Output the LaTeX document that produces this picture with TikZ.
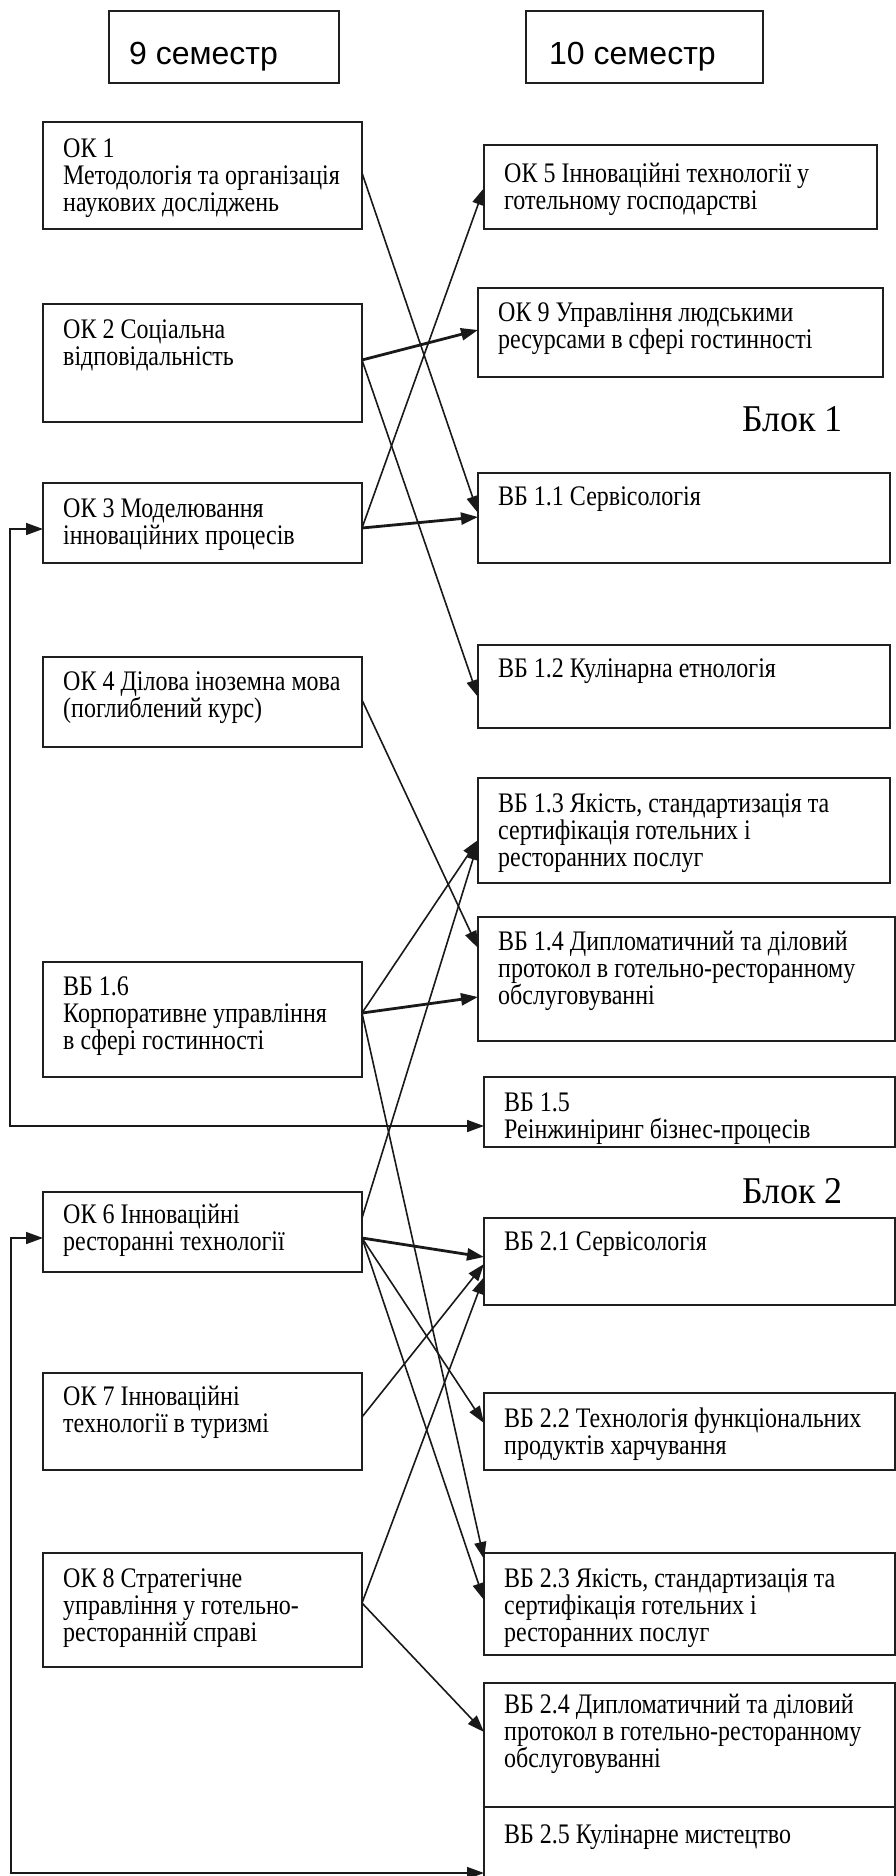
\documentclass[tikz,border=0pt]{standalone}
\usepackage{fontspec}
\usepackage{graphicx}
\setmainfont{Liberation Serif}
\newfontfamily\hdrfont{Liberation Sans}
\usetikzlibrary{arrows.meta}
\tikzset{
  boxnode/.style={draw=black!88, line width=1.5pt, inner sep=0pt, outer sep=0pt, anchor=north west},
  txt/.style={inner sep=0pt, anchor=base west, font=\fontsize{24}{22.9}\selectfont},
  hdrtxt/.style={inner sep=0pt, anchor=base west, font=\hdrfont\fontsize{32}{36}\selectfont},
  blktxt/.style={inner sep=0pt, anchor=base west, font=\fontsize{36}{40}\selectfont},
  arr/.style={-{Triangle[length=17pt,width=12pt]}, line width=1.6pt, black!90},
  tarr/.style={arr, line width=2.8pt},
  biarr/.style={{Triangle[length=17pt,width=12pt]}-{Triangle[length=17pt,width=12pt]}, line width=1.6pt, black!90},
}
\newcommand\tallpar[2]{\scalebox{1}[1.18]{\parbox[t]{#1}{\raggedright\lineskiplimit=-60pt #2}}}
\newcommand\mkbox[7]{%
  \pgfmathsetmacro\bw{#4-#2}%
  \pgfmathsetmacro\bh{#5-#3}%
  \pgfmathsetmacro\tw{#4-#2-20}%
  \node[boxnode, minimum width=\bw pt, minimum height=\bh pt] (#1) at (#2,#3) {};%
  \node[txt] (#1t) at (#2+20,#6) {\tallpar{\tw pt}{#7}};%
}
\begin{document}
\begin{tikzpicture}[x=1pt,y=-1pt]
\useasboundingbox (0,0) rectangle (896,1876);

% headers
\node[boxnode, minimum width=230pt, minimum height=72pt] (h9) at (109,11) {};
\node[hdrtxt] (h9t) at (129,64) {9 семестр};
\node[boxnode, minimum width=237pt, minimum height=72pt] (h10) at (526,11) {};
\node[hdrtxt] (h10t) at (549,64) {10 семестр};

\node[blktxt] (blk1) at (742,431) {\scalebox{1}[1.05]{Блок 1}};
\node[blktxt] (blk2) at (742,1203) {\scalebox{1}[1.05]{Блок 2}};

% left column
\mkbox{ok1}{43}{122}{362}{229}{157}{ОК 1\\Методологія та організація\\наукових досліджень}
\mkbox{ok2}{43}{304}{362}{422}{338}{ОК 2 Соціальна\\відповідальність}
\mkbox{ok3}{43}{483}{362}{563}{517}{ОК 3 Моделювання\\інноваційних процесів}
\mkbox{ok4}{43}{657}{362}{747}{690}{ОК 4 Ділова іноземна мова\\(поглиблений курс)}
\mkbox{vb16}{43}{962}{362}{1077}{995}{ВБ 1.6\\Корпоративне управління\\в сфері гостинності}
\mkbox{ok6}{43}{1192}{362}{1272}{1223}{ОК 6 Інноваційні\\ресторанні технології}
\mkbox{ok7}{43}{1373}{362}{1470}{1405}{ОК 7 Інноваційні\\технології в туризмі}
\mkbox{ok8}{43}{1553}{362}{1667}{1587}{ОК 8 Стратегічне\\управління у готельно-\\ресторанній справі}

% right column
\mkbox{ok5}{484}{145}{877}{229}{182}{ОК 5 Інноваційні технології у\\готельному господарстві}
\mkbox{ok9}{478}{288}{883}{377}{321}{ОК 9 Управління людськими\\ресурсами в сфері гостинності}
\mkbox{vb11}{478}{473}{890}{563}{505}{ВБ 1.1 Сервісологія}
\mkbox{vb12}{478}{645}{890}{728}{677}{ВБ 1.2 Кулінарна етнологія}
\mkbox{vb13}{478}{778}{890}{883}{812}{ВБ 1.3 Якість, стандартизація та\\сертифікація готельних і\\ресторанних послуг}
\mkbox{vb14}{478}{917}{895}{1041}{950}{ВБ 1.4 Дипломатичний та діловий\\протокол в готельно-ресторанному\\обслуговуванні}
\begin{scope}
  \clip (484,1077) rectangle (895,1147);
  \node[txt] (vb15t) at (504,1111) {\tallpar{390pt}{ВБ 1.5\\Реінжиніринг бізнес-процесів}};
\end{scope}
\node[boxnode, minimum width=411pt, minimum height=70pt] (vb15) at (484,1077) {};
\mkbox{vb21}{484}{1218}{895}{1305}{1250}{ВБ 2.1 Сервісологія}
\mkbox{vb22}{484}{1393}{895}{1470}{1427}{ВБ 2.2 Технологія функціональних\\продуктів харчування}
\mkbox{vb23}{484}{1553}{895}{1655}{1587}{ВБ 2.3 Якість, стандартизація та\\сертифікація готельних і\\ресторанних послуг}
\mkbox{vb24}{484}{1683}{895}{1807}{1713}{ВБ 2.4 Дипломатичний та діловий\\протокол в готельно-ресторанному\\обслуговуванні}
\mkbox{vb25}{484}{1807}{895}{1910}{1843}{ВБ 2.5 Кулінарне мистецтво}

% connectors
\draw[arr]  (ok1.east|-0,173)  -- (vb11.west|-0,513);
\draw[tarr] (ok2.east|-0,360)  -- (ok9.west|-0,330);
\draw[arr]  (ok2.east|-0,360)  -- (vb12.west|-0,697);
\draw[arr]  (ok3.east|-0,528)  -- (ok5.west|-0,188);
\draw[tarr] (ok3.east|-0,528)  -- (vb11.west|-0,517);
\draw[arr]  (ok4.east|-0,700)  -- (vb14.west|-0,948);
\draw[arr]  (vb16.east|-0,1013) -- (vb13.west|-0,840);
\draw[tarr] (vb16.east|-0,1013) -- (vb14.west|-0,997);
\draw[arr]  (vb16.east|-0,1013) -- (vb23.west|-0,1559);
\draw[arr]  (ok6.east|-0,1218) -- (vb13.west|-0,843);
\draw[tarr] (ok6.east|-0,1238) -- (vb21.west|-0,1257);
\draw[arr]  (ok6.east|-0,1238) -- (vb22.west|-0,1423);
\draw[arr]  (ok6.east|-0,1238) -- (vb23.west|-0,1600);
\draw[arr]  (ok7.east|-0,1417) -- (vb21.west|-0,1264);
\draw[arr]  (ok8.east|-0,1603) -- (vb21.west|-0,1277);
\draw[arr]  (ok8.east|-0,1603) -- (vb24.west|-0,1732);

% feedback lines on the left
\coordinate (fa1) at (10,529);
\coordinate (fa2) at (10,1126);
\draw[biarr] (ok3.west|-0,529) -- (fa1) -- (fa2) -- (vb15.west|-0,1126);
\coordinate (fb1) at (11,1238);
\coordinate (fb2) at (11,1873);
\draw[biarr] (ok6.west|-0,1238) -- (fb1) -- (fb2) -- (vb25.west|-0,1873);
\end{tikzpicture}
\end{document}
